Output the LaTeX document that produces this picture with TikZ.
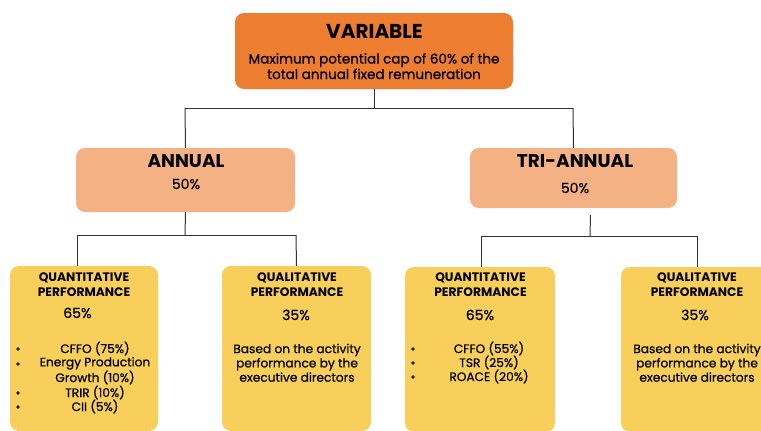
\documentclass[tikz,border=0pt]{standalone}
\usepackage{fontspec}
\setmainfont{Poppins}
\newfontfamily\medfont{Poppins}[FakeBold=0.6]
\definecolor{topc}{HTML}{ED7D31}
\definecolor{midc}{HTML}{F4B183}
\definecolor{lowc}{HTML}{F8CF5A}
\definecolor{linec}{HTML}{333333}
\begin{document}
\begin{tikzpicture}[x=1pt,y=-1pt,
  box/.style={rounded corners=9pt, draw=none, inner sep=0pt, outer sep=0pt, anchor=north west},
  txt/.style={inner sep=0pt, anchor=base, text=black, align=center},
  conn/.style={draw=linec, line width=1pt},
  ttl/.style={txt, font=\fontsize{12.3}{15}\selectfont\bfseries},
  pct/.style={txt, font=\fontsize{14}{14}\selectfont\medfont},
  body/.style={txt, font=\fontsize{12.2}{14.3}\selectfont\medfont},
  bul/.style={circle, fill=black!90, inner sep=0pt, minimum size=3.6pt, anchor=center}]
\useasboundingbox (0,0) rectangle (761,431);
\clip (0,0) rectangle (761,431);
\fill[white] (0,0) rectangle (761,431);
% boxes
\node[box, fill=topc, minimum width=278pt, minimum height=76pt] (var) at (235,13) {};
\node[box, fill=midc, minimum width=219pt, minimum height=64pt] (annual) at (76,148) {};
\node[box, fill=midc, minimum width=207pt, minimum height=60pt] (tri) at (470,148) {};
\node[box, fill=lowc, minimum width=148pt, minimum height=165pt] (qa1) at (10,266) {};
\node[box, fill=lowc, minimum width=149pt, minimum height=165pt] (ql1) at (222,266) {};
\node[box, fill=lowc, minimum width=150pt, minimum height=165pt] (qa2) at (405,267) {};
\node[box, fill=lowc, minimum width=150pt, minimum height=165pt] (ql2) at (621,267) {};
% connectors
\coordinate (jTop) at (374,108);
\coordinate (jA) at (185,108);
\coordinate (jT) at (573,108);
\draw[conn] (var.south) -- (jTop);
\draw[conn] (jA) -- (jT);
\draw[conn] (jA) -- (annual.north);
\draw[conn] (jT) -- (tri.north);
\coordinate (kA) at (185,235);
\coordinate (kAL) at (77,235);
\coordinate (kAR) at (296,235);
\draw[conn] (annual.south) -- (kA);
\draw[conn] (kAL) -- (kAR);
\draw[conn] (kAL) -- (kAL |- qa1.north);
\draw[conn] (kAR) -- (ql1.north);
\coordinate (kT) at (590,236);
\coordinate (kTL) at (481,236);
\coordinate (kTR) at (697,236);
\draw[conn] ([xshift=17pt,yshift=-7pt]tri.south) -- (kT);
\draw[conn] (kTL) -- (kTR);
\draw[conn] (kTL) -- (kTL |- qa2.north);
\draw[conn] (kTR) -- (kTR |- ql2.north);
% top texts
\node[txt, font=\fontsize{20}{20}\selectfont\bfseries] (tVar) at (374.5,38) {VARIABLE};
\node[txt, font=\fontsize{13.5}{15.5}\selectfont\medfont] (tVarS) at (374,79) {Maximum potential cap of 60\% of the\\total annual fixed remuneration};
\node[txt, font=\fontsize{18.5}{18.5}\selectfont\bfseries] (tAn) at (186,167) {ANNUAL};
\node[pct] (tAnP) at (186,189) {50\%};
\node[txt, font=\fontsize{18.5}{18.5}\selectfont\bfseries] (tTr) at (575,167) {TRI-ANNUAL};
\node[pct] (tTrP) at (575,193) {50\%};
% box 1
\node[ttl] (t1a) at (84,296.7) {QUANTITATIVE\\PERFORMANCE};
\node[pct] (t1b) at (77.5,318) {65\%};
\node[body] (t1c) at (95,353) {CFFO (75\%)};
\node[body] (t1d) at (95,382) {Energy Production\\Growth (10\%)};
\node[body] (t1e) at (95,397) {TRIR (10\%)};
\node[body] (t1f) at (95,411) {CII (5\%)};
\node[bul] (b1c) at (18,349) {};
\node[bul] (b1d) at (18,364) {};
\node[bul] (b1e) at (18,393) {};
\node[bul] (b1f) at (18,407) {};
% box 2
\node[ttl] (t2a) at (297,296) {QUALITATIVE\\PERFORMANCE};
\node[pct] (t2b) at (296,320) {35\%};
\node[body] (t2c) at (297,381.7) {Based on the activity\\performance by the\\executive directors};
% box 3
\node[ttl] (t3a) at (480.5,296) {QUANTITATIVE\\PERFORMANCE};
\node[pct] (t3b) at (480,320) {65\%};
\node[body] (t3c) at (489,353) {CFFO (55\%)};
\node[body] (t3d) at (489,367) {TSR (25\%)};
\node[body] (t3e) at (489,381) {ROACE (20\%)};
\node[bul] (b3c) at (413,349) {};
\node[bul] (b3d) at (413,363) {};
\node[bul] (b3e) at (413,377) {};
% box 4
\node[ttl] (t4a) at (697,296) {QUALITATIVE\\PERFORMANCE};
\node[pct] (t4b) at (695,320) {35\%};
\node[body] (t4c) at (697,381.7) {Based on the activity\\performance by the\\executive directors};
\end{tikzpicture}
\end{document}
